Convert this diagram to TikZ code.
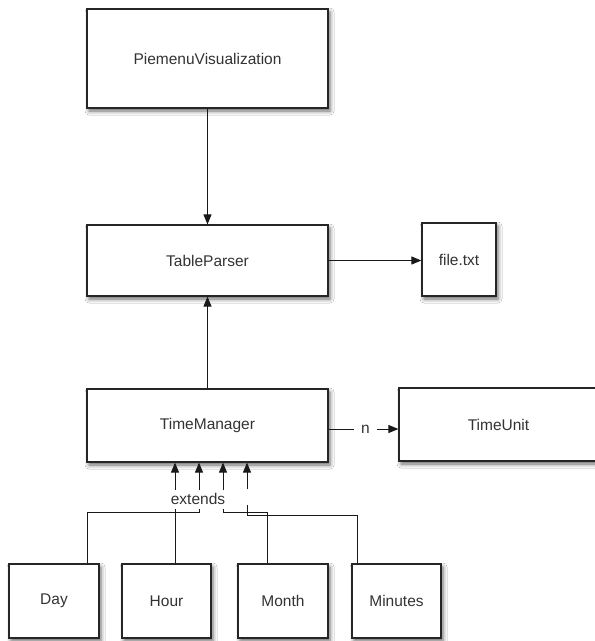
\documentclass[tikz,border=0pt]{standalone}
\usepackage{fontspec}
\setmainfont{Liberation Sans}
\usetikzlibrary{shadows.blur,arrows.meta}
\begin{document}
\begin{tikzpicture}[x=1pt,y=-1pt,
  box/.style={draw=black!85,line width=1.2pt,fill=white,inner sep=0pt,
    font=\fontsize{15.5pt}{18pt}\selectfont,text=black!80,
    blur shadow={shadow xshift=2pt,shadow yshift=-3pt,shadow blur radius=4pt,shadow opacity=60}},
  arr/.style={draw=black!90,line width=1pt,-{Triangle[length=10pt,width=8pt]}},
  conn/.style={draw=black!90,line width=1pt},
  lbl/.style={font=\fontsize{15.5pt}{18pt}\selectfont,text=black!80,fill=white,inner sep=0pt}]
\fill[white] (0,0) rectangle (595,641);
\useasboundingbox (0,0) rectangle (595,641);
\node[box,minimum width=241pt,minimum height=99pt] (pv) at (207.5,58.5) {PiemenuVisualization};
\node[box,minimum width=241pt,minimum height=71pt] (tp) at (207.5,260.5) {TableParser};
\node[box,minimum width=74pt,minimum height=73pt] (ft) at (459,259.5) {file.txt};
\node[box,minimum width=241pt,minimum height=73pt] (tm) at (207.5,425.5) {TimeManager};
\node[box,minimum width=199pt,minimum height=73pt] (tu) at (498.5,424.5) {TimeUnit};
\node[box,minimum width=90pt,minimum height=74pt] (day) at (54,601) {Day};
\node[box,minimum width=89pt,minimum height=74pt] (hour) at (166.5,601) {Hour};
\node[box,minimum width=90pt,minimum height=74pt] (month) at (283,601) {Month};
\node[box,minimum width=89pt,minimum height=74pt] (minutes) at (396.5,601) {Minutes};

\draw[arr] (pv.south) -- (tp.north);
\draw[arr] (tm.north) -- (tp.south);
\draw[arr] (tp.east) -- (tp.east -| ft.west);
\draw[arr] ([yshift=-3.5pt]tm.east) -- ([yshift=-3.5pt]tm.east -| tu.west)
  node[midway,lbl,minimum width=23pt,minimum height=14pt,xshift=2pt] {n};

\draw[arr] ([xshift=33pt]day.north) -- ++(0,-51) -| ([xshift=-8.5pt]tm.south);
\draw[arr] ([xshift=8.5pt]hour.north) -- ([xshift=-32.5pt]tm.south);
\draw[arr] ([xshift=-16pt]month.north) -- ++(0,-51) -| ([xshift=15.5pt]tm.south);
\coordinate (mgap) at ([xshift=39.5pt]tm.south |- 0,505);
\coordinate (mtail) at ([xshift=39.5pt]tm.south |- 0,489);
\draw[conn] ([xshift=-39.5pt]minutes.north) -- ++(0,-48) -| (mgap);
\draw[arr] (mtail) -- ([xshift=39.5pt]tm.south);
\node[lbl,minimum height=19pt,inner xsep=3pt] (ext) at (198,499) {extends};
\end{tikzpicture}
\end{document}
